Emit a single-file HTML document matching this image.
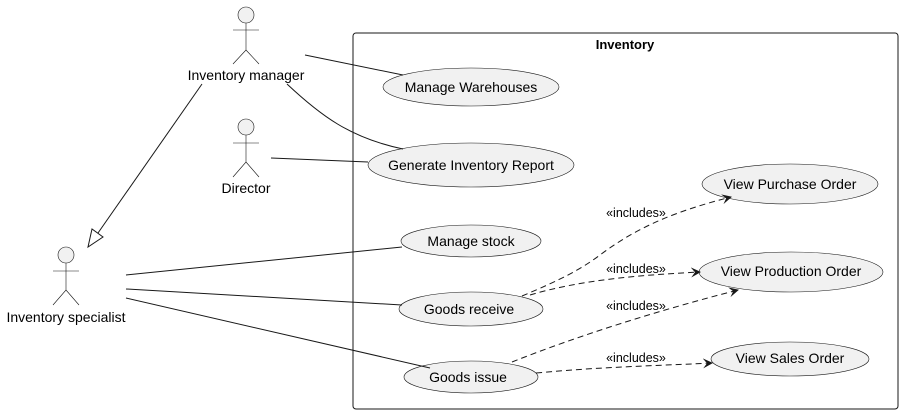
<!DOCTYPE html>
<html><head><meta charset="utf-8"><style>
html,body{margin:0;padding:0;background:#fff;}
svg{display:block;font-family:"Liberation Sans",sans-serif;}
</style></head><body>
<svg width="903" height="414" viewBox="0 0 903 414" xmlns="http://www.w3.org/2000/svg">
<defs>
<marker id="ar" viewBox="0 0 10 10" refX="9" refY="5" markerWidth="10" markerHeight="10" orient="auto" markerUnits="userSpaceOnUse">
<path d="M0,0 L10,5 L0,10 L4,5 Z" fill="#181818"/>
</marker>
</defs>
<rect x="353" y="33" width="545" height="376" rx="3" fill="none" stroke="#181818" stroke-width="1"/>
<text x="625" y="49" font-size="13" font-weight="bold" text-anchor="middle" fill="#000">Inventory</text>

<g fill="#f1f1f1" stroke="#181818" stroke-width="0.6">
<ellipse cx="471" cy="87" rx="88" ry="19"/>
<ellipse cx="471" cy="165" rx="103" ry="22"/>
<ellipse cx="471" cy="241" rx="70" ry="16"/>
<ellipse cx="471" cy="309" rx="72" ry="17"/>
<ellipse cx="471" cy="377" rx="67" ry="16"/>
<ellipse cx="790" cy="184" rx="88" ry="20"/>
<ellipse cx="791" cy="272" rx="92" ry="20"/>
<ellipse cx="790" cy="359" rx="79" ry="17"/>
</g>
<g font-size="14" text-anchor="middle" fill="#000">
<text x="471" y="92">Manage Warehouses</text>
<text x="471" y="170">Generate Inventory Report</text>
<text x="471" y="246">Manage stock</text>
<text x="469" y="314">Goods receive</text>
<text x="468" y="382">Goods issue</text>
<text x="790" y="189">View Purchase Order</text>
<text x="791" y="276">View Production Order</text>
<text x="790" y="363">View Sales Order</text>
<text x="246" y="80">Inventory manager</text>
<text x="246" y="193">Director</text>
<text x="66" y="322">Inventory specialist</text>
</g>

<g fill="none" stroke="#181818" stroke-width="0.6">
<g><circle cx="246" cy="15" r="8" fill="#f1f1f1"/><path d="M246,23 V50 M233,30 H259 M233,64 L246,50 L259,64"/></g>
<g><circle cx="246" cy="127" r="8" fill="#f1f1f1"/><path d="M246,135 V162 M233,143 H259 M233,177 L246,162 L259,177"/></g>
<g><circle cx="66" cy="255" r="8" fill="#f1f1f1"/><path d="M66,263 V290 M53,271 H79 M53,305 L66,290 L79,305"/></g>
</g>

<g fill="none" stroke="#181818" stroke-width="1">
<path d="M305,55 L403,75"/>
<path d="M287,84 C320,115 350,138 403,149"/>
<path d="M271,158 L368,162"/>
<path d="M202,84 L98,233"/>
<path d="M126,275 L402,247"/>
<path d="M126,289 L402,305"/>
<path d="M126,298 L430,368"/>
</g>
<path d="M88,247 L92,229 L103,237 Z" fill="#fff" stroke="#181818" stroke-width="1"/>

<g fill="none" stroke="#181818" stroke-width="1" stroke-dasharray="6,4" marker-end="url(#ar)">
<path d="M522,296 C560,280 580,270 600,255 C640,225 680,210 731,197"/>
<path d="M530,295 C580,280 640,275 700,272"/>
<path d="M512,362 C580,335 660,310 738,290"/>
<path d="M536,373 C600,367 650,366 712,363"/>
</g>
<g font-size="12.5" text-anchor="middle" fill="#000">
<text x="636" y="217">«includes»</text>
<text x="636" y="273">«includes»</text>
<text x="636" y="310">«includes»</text>
<text x="636" y="362">«includes»</text>
</g>
</svg>
</body></html>
